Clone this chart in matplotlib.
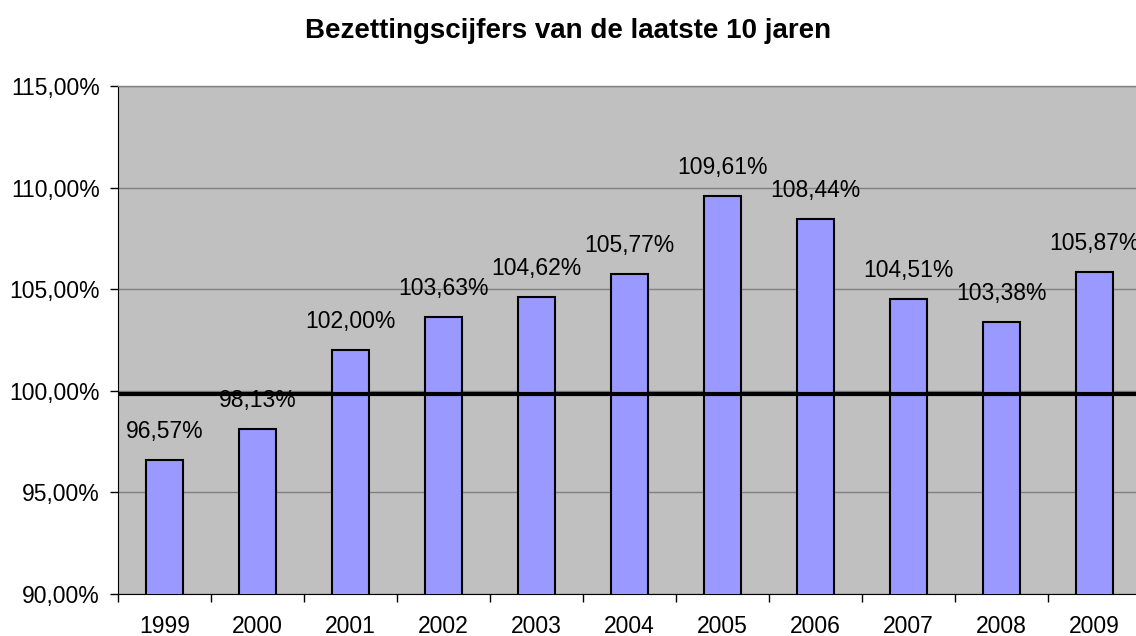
import matplotlib
matplotlib.use("Agg")
import matplotlib.pyplot as plt
from matplotlib.ticker import FuncFormatter, FixedLocator
import numpy as np

plt.rcParams['font.family'] = ['Liberation Sans', 'DejaVu Sans']

years = ["1999", "2000", "2001", "2002", "2003", "2004", "2005", "2006", "2007", "2008", "2009"]
values = [96.57, 98.13, 102.00, 103.63, 104.62, 105.77, 109.61, 108.44, 104.51, 103.38, 105.87]
reference_line = 99.84
title = "Bezettingscijfers van de laatste 10 jaren"

W, H = 1136, 636
fig = plt.figure(figsize=(W / 100, H / 100), dpi=100)
left, right, top, bottom = 118, 1141, 86, 594
ax = fig.add_axes([left / W, 1 - bottom / H, (right - left) / W, (bottom - top) / H])
ax.set_facecolor("#C0C0C0")

x = np.arange(len(years))
ax.bar(x, values, width=0.39, bottom=0, color="#9999FF", edgecolor="black", linewidth=1.5, zorder=3)
ax.set_xlim(-0.5, len(years) - 0.5)
ax.set_ylim(90, 115)

fs = 16.5
ax.yaxis.set_major_locator(FixedLocator([90, 95, 100, 105, 110, 115]))
ax.yaxis.set_major_formatter(FuncFormatter(lambda v, p: f"{v:.2f}%".replace(".", ",")))
ax.grid(axis="y", color="#808080", linewidth=1, zorder=0)
ax.set_axisbelow(True)

ax.set_xticks(x)
ax.set_xticklabels(years)
ax.set_xticks(np.arange(-0.5, len(years)), minor=True)
ax.tick_params(axis="x", which="major", length=0, pad=15, labelsize=fs)
ax.tick_params(axis="x", which="minor", length=6, width=1, color="black")
ax.tick_params(axis="y", length=6, width=1, labelsize=fs, pad=7)

for s in ["top", "right"]:
    ax.spines[s].set_color("#808080")
    ax.spines[s].set_linewidth(1)
ax.spines["left"].set_color("black")
ax.spines["bottom"].set_color("black")

ax.axhline(reference_line, color="black", linewidth=3, zorder=4)

for xi, v in zip(x, values):
    ax.annotate(f"{v:.2f}%".replace(".", ","), (xi, v), xytext=(0, 17), textcoords="offset pixels",
                ha="center", va="bottom", fontsize=fs, zorder=5)

fig.text(0.5, 1 - 31 / H, title, ha="center", va="center", fontsize=20, fontweight="bold")

fig.savefig("out.png", dpi=100)
